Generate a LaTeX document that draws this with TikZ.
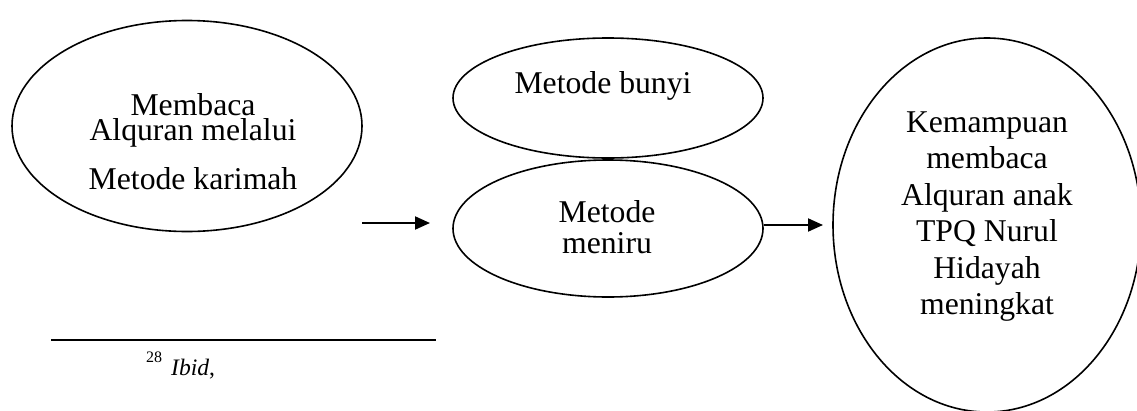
\documentclass[tikz,border=0pt]{standalone}
\usepackage{fontspec}
\setmainfont{Liberation Serif}
\usetikzlibrary{shapes.geometric,arrows.meta}

\tikzset{
  oval/.style={draw, ellipse, line width=1.6pt, inner sep=0pt},
  txt/.style={anchor=base, inner sep=0pt, font=\fontsize{31.7}{36.5}\selectfont},
  flow/.style={line width=2pt, -{Triangle[length=15pt,width=13pt]}},
  rule/.style={line width=2.5pt}
}

\begin{document}
\begin{tikzpicture}[x=1pt,y=-1pt]
  \useasboundingbox (0,0) rectangle (1137,410);
  \clip (0,0) rectangle (1137,410);

  % ovals
  \node[oval, minimum width=350pt, minimum height=211pt] (karimah) at (187,126) {};
  \node[oval, minimum width=310pt, minimum height=120pt] (bunyi) at (608,98) {};
  \node[oval, minimum width=310pt, minimum height=137pt] (meniru) at (608,228.5) {};
  \node[oval, minimum width=308pt, minimum height=374pt] (hasil) at (987,225) {};

  % texts
  \node[txt] (t1) at (193,115) {Membaca};
  \node[txt] (t2) at (193,140) {Alquran melalui};
  \node[txt] (t3) at (193,189) {Metode karimah};

  \node[txt] (t4) at (603,93) {Metode bunyi};

  \node[txt] (t5) at (607,222) {Metode};
  \node[txt] (t6) at (607,253) {meniru};

  \node[txt] (r1) at (987,132) {Kemampuan};
  \node[txt] (r2) at (987,168.5) {membaca};
  \node[txt] (r3) at (987,205) {Alquran anak};
  \node[txt] (r4) at (987,241.5) {TPQ Nurul};
  \node[txt] (r5) at (987,278) {Hidayah};
  \node[txt] (r6) at (987,314.5) {meningkat};

  % arrows
  \coordinate (a1s) at (362,223);
  \coordinate (a1e) at (430,223);
  \draw[flow] (a1s) -- (a1e);
  \coordinate (a2e) at (823,225);
  \draw[flow] (meniru.east |- a2e) -- (a2e);

  % footnote
  \coordinate (fl) at (51,340);
  \coordinate (fr) at (436,340);
  \draw[rule] (fl) -- (fr);
  \node[anchor=base west, inner sep=0pt, font=\fontsize{23.6}{28}\selectfont] (fn) at (146,375)
    {{\fontsize{16}{16}\selectfont\raisebox{13pt}{28}}\hspace{9pt}\textit{Ibid},};
\end{tikzpicture}
\end{document}
